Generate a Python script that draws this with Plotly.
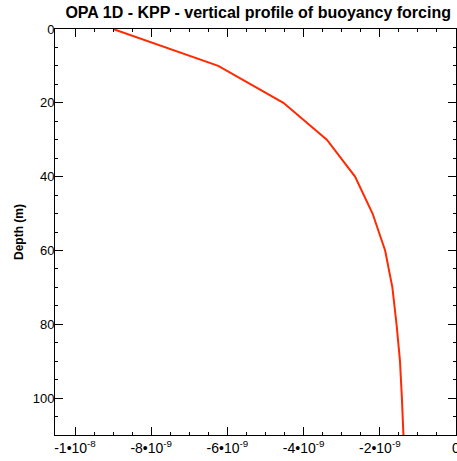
import plotly.graph_objects as go

depth = [0, 10, 20, 30, 40, 50, 60, 70, 80, 90, 100, 110]
buoyancy = [-9.0e-9, -6.24e-9, -4.53e-9, -3.39e-9, -2.65e-9, -2.19e-9, -1.86e-9,
            -1.67e-9, -1.56e-9, -1.47e-9, -1.42e-9, -1.38e-9]

x_tickvals = [-1e-8, -8e-9, -6e-9, -4e-9, -2e-9]
x_mant = ["-1", "-8", "-6", "-4", "-2"]
x_exp = ["-8", "-9", "-9", "-9", "-9"]
x_ticktext = [f"{m}•10<sup>{e}</sup>" for m, e in zip(x_mant, x_exp)]
x_minor = [-1.05e-8 + 0.5e-9 * i for i in range(22)]
y_tickvals = [0, 20, 40, 60, 80, 100]
y_minor = [5 * i for i in range(23)]

fig = go.Figure()
fig.add_trace(go.Scatter(x=buoyancy, y=depth, mode="lines",
                         line=dict(color="#ff2a00", width=2), showlegend=False))

fig.update_layout(
    width=457, height=461,
    margin=dict(l=55, r=1, t=29, b=26),
    paper_bgcolor="white", plot_bgcolor="white",
    font=dict(family="Liberation Sans, Arial, sans-serif", color="black", size=13),
    title=dict(text="<b>OPA 1D - KPP - vertical profile of buoyancy forcing</b>",
               x=0.565, xanchor="center", y=0.973, yanchor="middle",
               font=dict(size=16, color="black")),
)
fig.update_xaxes(
    range=[-1.0525e-8, 0], tickmode="array", tickvals=x_tickvals, ticktext=x_ticktext,
    ticks="inside", ticklen=8, tickcolor="black", showline=True, linecolor="black",
    linewidth=1, mirror="ticks", showgrid=False, zeroline=False,
    minor=dict(tickmode="array", tickvals=x_minor, ticks="inside", ticklen=3,
               tickcolor="black", showgrid=False),
    tickfont=dict(size=14),
)
fig.update_yaxes(
    range=[110, 0], tickmode="array", tickvals=y_tickvals,
    ticks="inside", ticklen=8, tickcolor="black", showline=True, linecolor="black",
    linewidth=1, mirror="ticks", showgrid=False, zeroline=False,
    minor=dict(tickmode="array", tickvals=y_minor, ticks="inside", ticklen=3,
               tickcolor="black", showgrid=False),
    ticklabelstandoff=-3,
    title=dict(text="<b>Depth (m)</b>", font=dict(size=12), standoff=6),
    tickfont=dict(size=13),
)
fig.add_annotation(x=0, y=0, xref="x", yref="paper", text="0", showarrow=False,
                   xanchor="center", yanchor="top", yshift=-3, font=dict(size=14))

fig.write_html("out.html")
